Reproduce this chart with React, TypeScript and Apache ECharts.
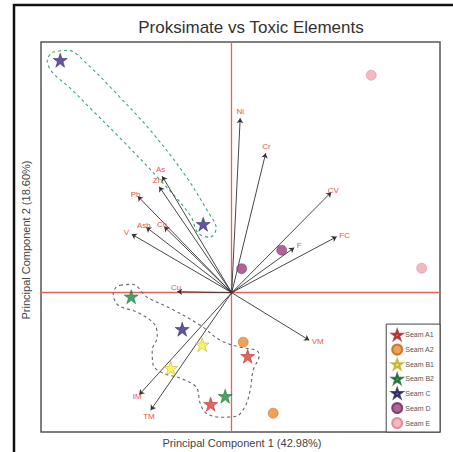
import React, { useEffect, useRef } from "react";
import * as echarts from "echarts";

// PCA scores per seam (PC1, PC2)
const seamNames = ["Seam A1", "Seam A2", "Seam B1", "Seam B2", "Seam C", "Seam D", "Seam E"];
const seamA1 = [[0.32, -1.27], [-0.42, -2.23]];
const seamA2 = [[0.23, -0.99], [0.83, -2.41]];
const seamB1 = [[-0.59, -1.04], [-1.22, -1.51]];
const seamB2 = [[-2.01, -0.08], [-0.13, -2.07]];
const seamC = [[-3.43, 4.65], [-0.57, 1.37], [-0.99, -0.73]];
const seamD = [[0.2, 0.48], [1.0, 0.85]];
const seamE = [[2.79, 4.35], [3.8, 0.49]];

// Variable loadings (arrow tips)
const varNames = ["Ni", "Cr", "CV", "FC", "F", "VM", "TM", "IM", "Cu", "V", "Ash", "Co", "Pb", "Zn", "As"];
const loadPC1 = [0.17, 0.68, 1.99, 2.1, 1.25, 1.55, -1.62, -1.85, -1.09, -2.0, -1.71, -1.35, -1.88, -1.45, -1.39];
const loadPC2 = [3.49, 2.79, 2.01, 1.12, 0.9, -0.95, -2.35, -2.04, 0.02, 1.17, 1.31, 1.32, 1.93, 2.12, 2.33];

// Group outlines
const groupOutlineUpper = [
  [-3.59, 4.81], [-3.27, 4.85], [-2.93, 4.61], [-2.37, 4.05], [-1.63, 3.25], [-0.93, 2.35],
  [-0.47, 1.61], [-0.31, 1.29], [-0.43, 1.11], [-0.67, 1.19], [-0.83, 1.55], [-1.43, 2.25],
  [-2.23, 3.09], [-2.83, 3.69], [-3.23, 4.09], [-3.59, 4.41], [-3.69, 4.65], [-3.59, 4.81],
];
const groupOutlineLower = [
  [-2.23, 0.15], [-1.99, 0.17], [-1.69, -0.09], [-1.23, -0.31], [-0.63, -0.65], [-0.23, -0.95],
  [0.17, -1.09], [0.49, -1.15], [0.55, -1.25], [0.43, -1.55], [0.37, -1.95], [0.27, -2.27],
  [0.09, -2.47], [-0.23, -2.49], [-0.51, -2.41], [-0.63, -2.21], [-0.71, -1.89], [-1.03, -1.71],
  [-1.37, -1.61], [-1.57, -1.45], [-1.59, -1.15], [-1.49, -0.89], [-1.53, -0.65], [-1.89, -0.39],
  [-2.27, -0.25], [-2.37, -0.01], [-2.31, 0.11], [-2.23, 0.15],
];

const STAR =
  "path://M50,0 L61.8,35.1 L98.9,35.1 L69.1,57.3 L80.9,92.7 L50,70.5 L19.1,92.7 L30.9,57.3 L1.1,35.1 L38.2,35.1 Z";

const seamStyles = [
  { data: seamA1, symbol: STAR, color: "#e23a32", border: "#a02020", size: 14 },
  { data: seamA2, symbol: "circle", color: "#ec8a30", border: "#b86418", size: 10 },
  { data: seamB1, symbol: STAR, color: "#f6f03a", border: "#b8a820", size: 14 },
  { data: seamB2, symbol: STAR, color: "#1c8c3c", border: "#10602a", size: 14 },
  { data: seamC, symbol: STAR, color: "#3a2c84", border: "#221a5a", size: 14 },
  { data: seamD, symbol: "circle", color: "#9c3c80", border: "#70285a", size: 10 },
  { data: seamE, symbol: "circle", color: "#f2a6b0", border: "#d08090", size: 10 },
];

export default function App() {
  const ref = useRef<HTMLDivElement>(null);

  useEffect(() => {
    if (!ref.current) return;
    const chart = echarts.init(ref.current, undefined, { renderer: "svg" });

    const arrows = varNames.map((n, i) => {
      const item: any = {
        name: n,
        coords: [
          [0, 0],
          [loadPC1[i], loadPC2[i]],
        ],
      };
      // near-horizontal arrow: lift its label above the zero line
      if (Math.abs(loadPC2[i]) < 0.1) item.label = { position: "end", verticalAlign: "bottom", distance: -4 };
      return item;
    });

    const scatterSeries = seamStyles.map((s, i) => ({
      name: seamNames[i],
      type: "scatter",
      data: s.data,
      symbol: s.symbol,
      symbolSize: s.size,
      itemStyle: { color: s.color, borderColor: s.border, borderWidth: 0.6 },
      z: 5,
    }));

    chart.setOption({
      animation: false,
      title: {
        text: "Proksimate vs Toxic Elements",
        left: 246,
        textAlign: "center",
        top: 14,
        textStyle: { fontFamily: "Liberation Sans", fontSize: 17, fontWeight: "normal", color: "#333" },
      },
      grid: {
        left: 41,
        top: 42,
        right: 13,
        bottom: 20,
        show: true,
        borderColor: "#555",
        borderWidth: 1.5,
        backgroundColor: "#fff",
      },
      xAxis: {
        type: "value",
        min: -3.814,
        max: 4.166,
        axisLine: { onZero: true, lineStyle: { color: "#e0645c", width: 1.3 } },
        axisTick: { show: false },
        axisLabel: { show: false },
        splitLine: { show: false },
      },
      yAxis: {
        type: "value",
        min: -2.786,
        max: 5.014,
        axisLine: { onZero: true, lineStyle: { color: "#e0645c", width: 1.3 } },
        axisTick: { show: false },
        axisLabel: { show: false },
        splitLine: { show: false },
      },
      legend: {
        data: seamNames,
        orient: "vertical",
        right: 13,
        bottom: 20,
        padding: [5, 6, 3, 5],
        itemWidth: 10,
        itemHeight: 10,
        itemGap: 3,
        borderColor: "#444",
        borderWidth: 1,
        backgroundColor: "#fff",
        textStyle: { fontFamily: "Liberation Sans", fontSize: 7, color: "#555", padding: [0, 0, 0, -2] },
      },
      graphic: [
        {
          type: "rect",
          shape: { x: 14, y: 5, width: 470, height: 470 },
          style: { fill: "none", stroke: "#111", lineWidth: 2.5 },
          z: 100,
        },
        {
          type: "text",
          x: 242,
          y: 443,
          style: {
            text: "Principal Component 1 (42.98%)",
            font: "11px 'Liberation Sans'",
            fill: "#444",
            align: "center",
            verticalAlign: "middle",
          },
        },
        {
          type: "text",
          x: 26,
          y: 240,
          rotation: Math.PI / 2,
          style: {
            text: "Principal Component 2 (18.60%)",
            font: "11px 'Liberation Sans'",
            fill: "#444",
            align: "center",
            verticalAlign: "middle",
          },
        },
      ],
      series: [
        {
          type: "line",
          data: groupOutlineUpper,
          smooth: 0.35,
          symbol: "none",
          silent: true,
          lineStyle: { color: "#3aa57c", width: 1.1, type: [3, 3] },
          z: 1,
        },
        {
          type: "line",
          data: groupOutlineLower,
          smooth: 0.35,
          symbol: "none",
          silent: true,
          lineStyle: { color: "#666", width: 1.1, type: [3, 3] },
          z: 1,
        },
        {
          type: "lines",
          coordinateSystem: "cartesian2d",
          data: arrows,
          symbol: ["none", "arrow"],
          symbolSize: 5,
          silent: true,
          lineStyle: { color: "#333", width: 0.9, opacity: 1 },
          label: {
            show: true,
            position: "end",
            formatter: "{b}",
            distance: 3,
            color: "#e0584a",
            fontFamily: "Liberation Sans",
            fontSize: 8,
          },
          z: 3,
        },
        ...scatterSeries,
      ],
    });

    return () => chart.dispose();
  }, []);

  return (
    <div
      ref={ref}
      style={{ position: "fixed", left: 0, top: 0, width: 453, height: 452, background: "#fff" }}
    />
  );
}
